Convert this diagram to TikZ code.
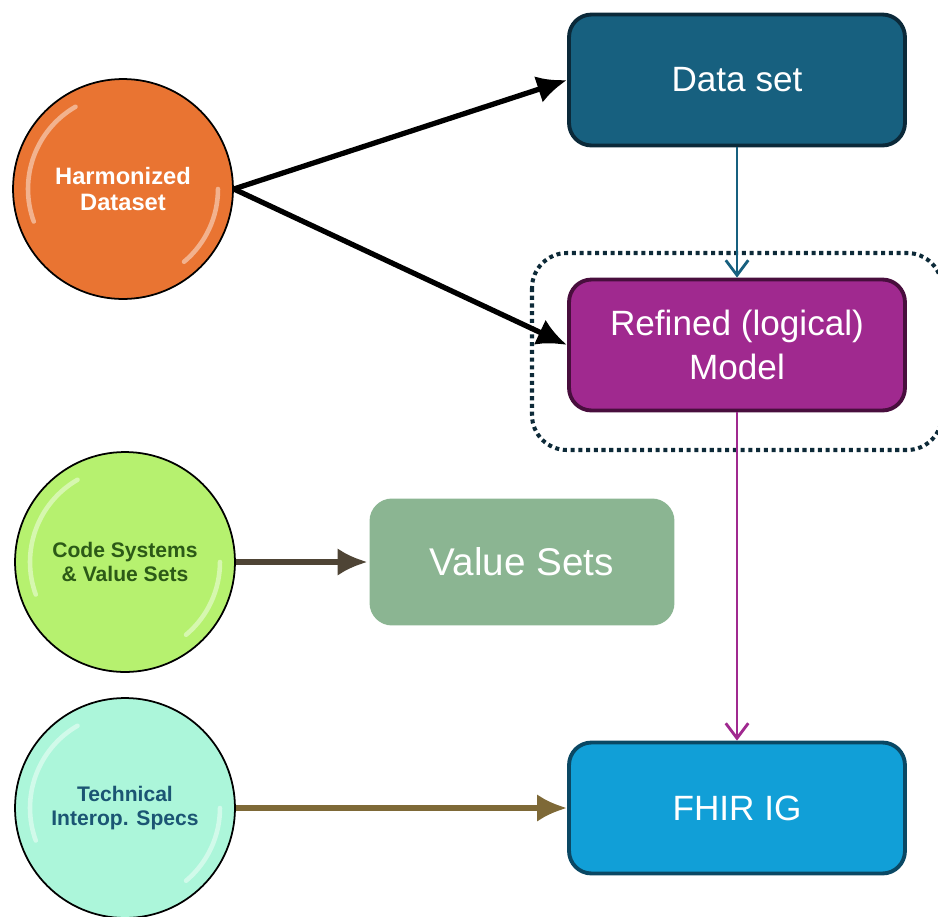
\documentclass[tikz,border=0pt]{standalone}
\usepackage{fontspec}
\setmainfont{Liberation Sans}
\usetikzlibrary{arrows.meta}
\definecolor{harmorange}{HTML}{E97432}
\definecolor{codegreen}{HTML}{B6F16F}
\definecolor{codetext}{HTML}{2C5A17}
\definecolor{techmint}{HTML}{ACF6DA}
\definecolor{techtext}{HTML}{1B5573}
\definecolor{dsfill}{HTML}{17607F}
\definecolor{dsline}{HTML}{0B2939}
\definecolor{rmfill}{HTML}{A0298F}
\definecolor{rmline}{HTML}{480E3D}
\definecolor{vsfill}{HTML}{8BB592}
\definecolor{igfill}{HTML}{119FD7}
\definecolor{igline}{HTML}{0A4864}
\definecolor{frameline}{HTML}{0D2A38}
\definecolor{vsarrow}{HTML}{4E4435}
\definecolor{igarrow}{HTML}{7E6937}
\newcommand{\Shine}[1]{%
  \draw[white,opacity=.45,line width=2.6pt,line cap=round]
    (#1.center) ++(120:1.9cm) arc[start angle=120,end angle=200,radius=1.9cm];
  \draw[white,opacity=.45,line width=2.6pt,line cap=round]
    (#1.center) ++(0:1.9cm) arc[start angle=0,end angle=-50,radius=1.9cm];}
\tikzset{
  bubble/.style={circle,draw=black,line width=1pt,minimum size=4.4cm,inner sep=0pt,
    align=center,font=\bfseries\fontsize{12}{13.5}\selectfont},
  stage/.style={rounded corners=0.45cm,line width=2.2pt,minimum width=6.72cm,
    minimum height=2.62cm,align=center,text=white,font=\fontsize{20}{25}\selectfont},
  bigarrow/.style={line width=3pt,-{Latex[length=0.6cm,width=0.55cm]}},
  thinarrow/.style={line width=1.6pt,-{Straight Barb[length=0.3cm,width=0.45cm,line width=1.6pt]}}
}
\begin{document}
\begin{tikzpicture}[x=0.02cm,y=-0.02cm]
    \useasboundingbox (0,0) rectangle (938,917);
    % bubbles on the left
    \node[bubble,fill=harmorange,text=white,font=\bfseries\fontsize{13.5}{15}\selectfont]
        (harm) at (123,189) {Harmonized\\Dataset};
    \node[bubble,fill=codegreen,text=codetext] (codes) at (125,562) {Code Systems\\\& Value Sets};
    \node[bubble,fill=techmint,text=techtext] (tech) at (125,808) {Technical\\Interop. Specs};
    \Shine{harm} \Shine{codes} \Shine{tech}
    % boxes
    \draw[frameline,line width=2.3pt,dash pattern=on 2.3pt off 2.1pt,rounded corners=0.7cm]
        (532,253) rectangle (942,450);
    \node[stage,fill=dsfill,draw=dsline] (data) at (737,80) {Data set};
    \node[stage,fill=rmfill,draw=rmline] (model) at (737,345) {Refined (logical)\\Model};
    \node[stage,fill=vsfill,minimum width=6.1cm,minimum height=2.54cm,
        font=\fontsize{22}{26}\selectfont] (vsets) at (522,562) {Value Sets};
    \node[stage,fill=igfill,draw=igline] (fhir) at (737,808) {FHIR IG};
    % connectors
    \draw[bigarrow] (harm.east) -- (data.west);
    \draw[bigarrow] (harm.east) -- (model.west);
    \draw[thinarrow,draw=dsfill] (data.south) -- (model.north);
    \draw[thinarrow,draw=rmfill] (model.south) -- (fhir.north);
    \draw[bigarrow,draw=vsarrow,fill=vsarrow] (codes.east) -- (vsets.west);
    \draw[bigarrow,draw=igarrow,fill=igarrow] (tech.east) -- (fhir.west);
\end{tikzpicture}
\end{document}
